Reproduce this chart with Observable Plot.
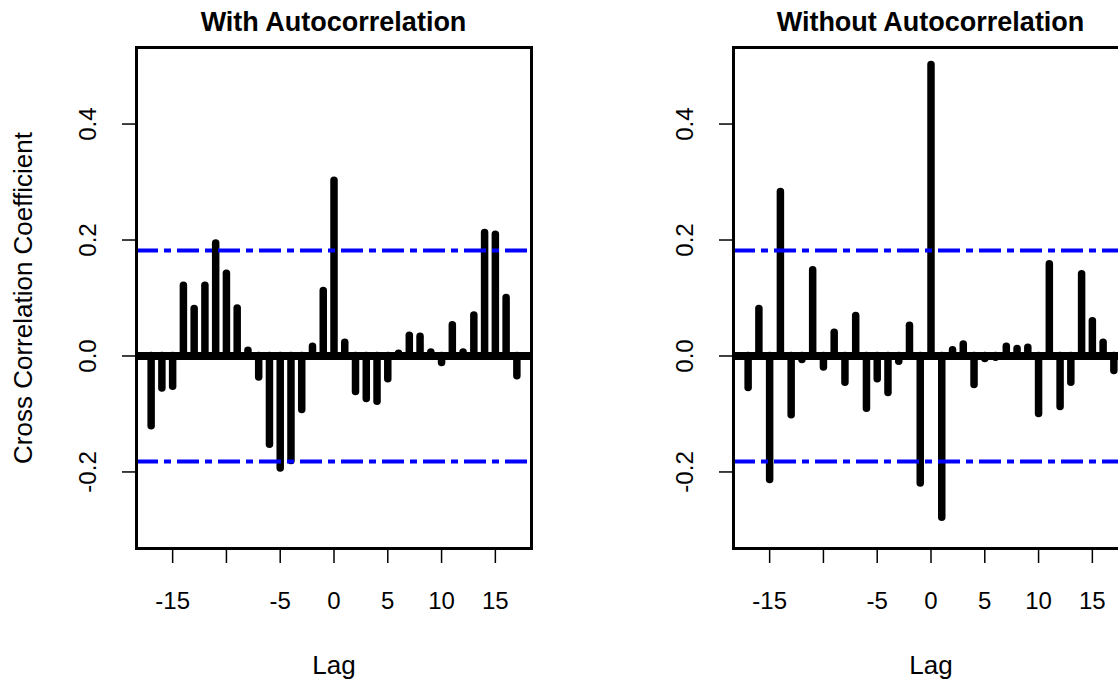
<!DOCTYPE html>
<html>
<head>
<meta charset="utf-8">
<script src="https://cdn.jsdelivr.net/npm/d3@7"></script>
<script src="https://cdn.jsdelivr.net/npm/@observablehq/plot@0.6"></script>
<style>
  body { margin: 0; background: #fff; }
  #chart { position: relative; width: 1118px; height: 685px; overflow: hidden; background: #fff;
           font-family: "Liberation Sans", Arial, sans-serif; color: #000; }
  .panel { position: absolute; top: 0; width: 597px; height: 685px; }
  .panel h2 { margin: 0; height: 44px; line-height: 44px; font-size: 27px; font-weight: bold;
              text-align: center; margin-left: 136px; width: 395px; white-space: nowrap; }
  .panel svg { display: block; }
</style>
</head>
<body>
<div id="chart"></div>
<script>
// Lags of the cross-correlation function
const lags = [-17, -16, -15, -14, -13, -12, -11, -10, -9, -8, -7, -6, -5, -4, -3, -2, -1, 0,
              1, 2, 3, 4, 5, 6, 7, 8, 9, 10, 11, 12, 13, 14, 15, 16, 17];

// Cross-correlation coefficients, raw series
const withAuto = [-0.121, -0.056, -0.053, 0.121, 0.081, 0.121, 0.194, 0.142, 0.082, 0.009,
                  -0.037, -0.153, -0.194, -0.181, -0.093, 0.016, 0.112, 0.302, 0.023, -0.062,
                  -0.074, -0.079, -0.040, 0.004, 0.035, 0.033, 0.006, -0.012, 0.053, 0.006,
                  0.070, 0.212, 0.209, 0.100, -0.035];

// Cross-correlation coefficients, prewhitened series
const withoutAuto = [-0.055, 0.081, -0.214, 0.283, -0.102, -0.007, 0.148, -0.020, 0.040, -0.046,
                     0.069, -0.091, -0.040, -0.064, -0.010, 0.052, -0.220, 0.502, -0.279, 0.010,
                     0.020, -0.050, -0.005, -0.003, 0.016, 0.012, 0.014, -0.100, 0.158, -0.088,
                     -0.046, 0.141, 0.060, 0.023, -0.026];

// Approximate 95% significance bound
const ciBound = 0.182;
const yLimits = [-0.3, 0.5];

const xTicks = [-15, -10, -5, 0, 5, 10, 15];
const xTickLabels = ["-15", "", "-5", "0", "5", "10", "15"];
const yTicks = [-0.2, 0, 0.2, 0.4];
const yTickLabels = ["-0.2", "0.0", "0.2", "0.4"];

const panelTitles = ["With Autocorrelation", "Without Autocorrelation"];
const yAxisLabel = "Cross Correlation Coefficient";
const xAxisLabel = "Lag";

const FONT = '"Liberation Sans", Arial, sans-serif';

// Pad a range by 4% on each side, like R's default axis style
function expand([a, b]) {
  const d = (b - a) * 0.04;
  return [a - d, b + d];
}

function ccfPanel(values, title, showYLabel, left) {
  const data = lags.map((lag, i) => ({lag, r: values[i]}));

  const marks = [
    Plot.ruleX(data, {x: "lag", y1: 0, y2: "r", stroke: "#000", strokeWidth: 7.5, strokeLinecap: "round"}),
    Plot.ruleY([0], {stroke: "#000", strokeWidth: 8}),
    Plot.ruleY([ciBound, -ciBound], {stroke: "#0000ff", strokeWidth: 4, strokeDasharray: "22,6,7,6"}),
    Plot.frame({stroke: "#000", strokeWidth: 3}),
    Plot.axisX({ticks: xTicks, tickSize: 15, tickPadding: 28, fontSize: 24, strokeWidth: 1.5,
                tickFormat: (d) => xTickLabels[xTicks.indexOf(d)], label: null}),
    Plot.axisY({ticks: yTicks, tickSize: 14, strokeWidth: 1.5, tickFormat: () => null, label: null}),
    Plot.text(yTicks, {y: (d) => d, text: (d, i) => yTickLabels[i], frameAnchor: "left",
                       dx: -48, rotate: -90, fontSize: 24, lineAnchor: "middle", textAnchor: "middle"}),
    Plot.text([xAxisLabel], {frameAnchor: "bottom", dy: 117, fontSize: 26, lineAnchor: "middle"})
  ];
  if (showYLabel) {
    marks.push(Plot.text([yAxisLabel], {frameAnchor: "left", dx: -113, rotate: -90, fontSize: 26,
                                        lineAnchor: "middle", textAnchor: "middle"}));
  }

  const svg = Plot.plot({
    width: 597,
    height: 641,
    marginTop: 3,
    marginBottom: 137,
    marginLeft: 136,
    marginRight: 66,
    style: {fontFamily: FONT, fontSize: "24px", color: "#000", background: "#fff", overflow: "visible"},
    x: {domain: expand(d3.extent(lags))},
    y: {domain: expand(yLimits)},
    marks
  });

  const div = document.createElement("div");
  div.className = "panel";
  div.style.left = left + "px";
  const h = document.createElement("h2");
  h.textContent = title;
  div.appendChild(h);
  div.appendChild(svg);
  return div;
}

const chart = document.getElementById("chart");
chart.appendChild(ccfPanel(withAuto, panelTitles[0], true, 0));
chart.appendChild(ccfPanel(withoutAuto, panelTitles[1], false, 597));
</script>
</body>
</html>
